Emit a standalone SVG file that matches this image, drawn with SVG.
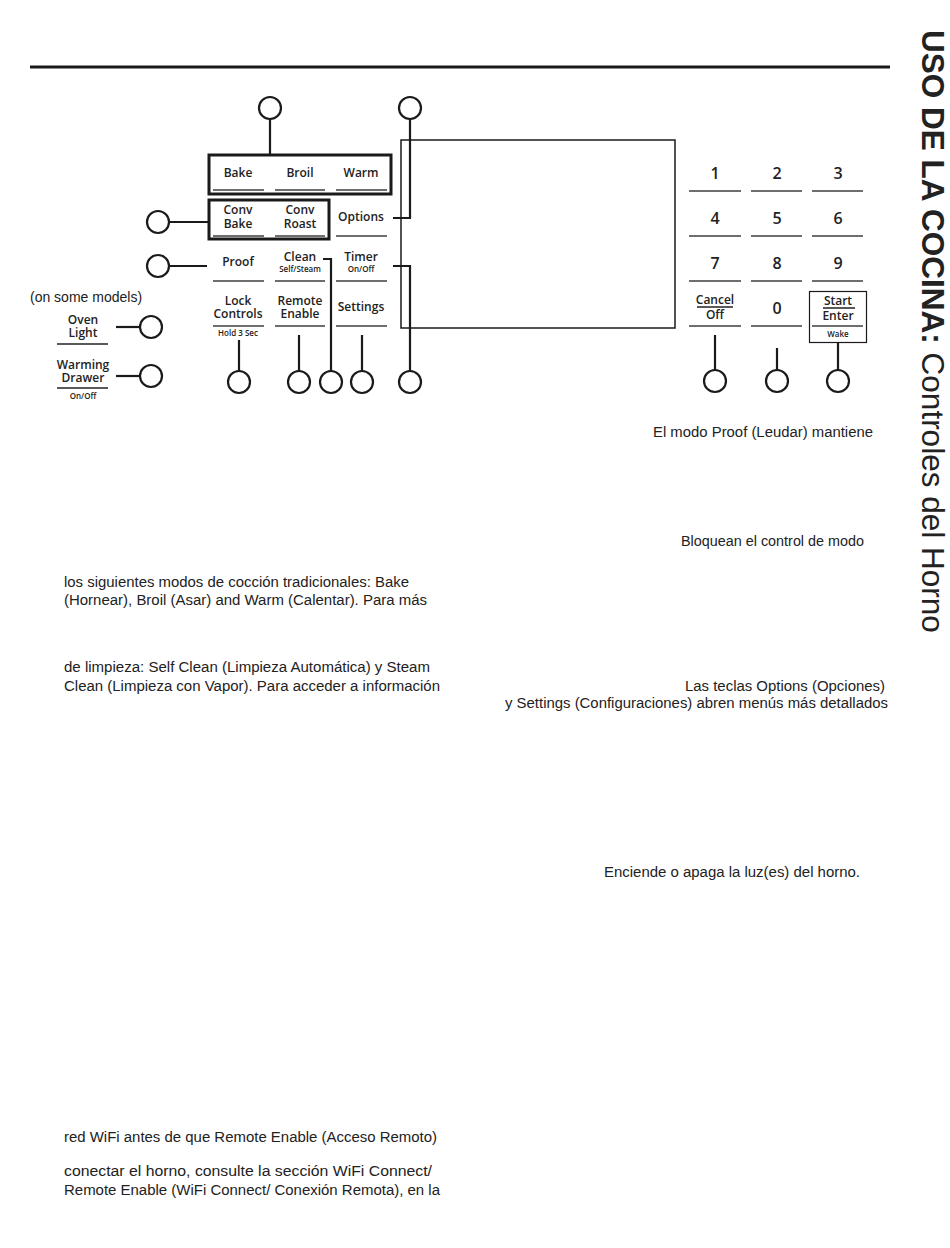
<svg xmlns="http://www.w3.org/2000/svg" width="950" height="1248" viewBox="0 0 950 1248">
<style>
.k{font-family:"Open Sans","DejaVu Sans",sans-serif;font-weight:600;font-size:12px;fill:#222;text-anchor:middle}
.s{font-family:"Open Sans","DejaVu Sans",sans-serif;font-weight:600;font-size:8px;fill:#222;text-anchor:middle}
.d{font-family:"Open Sans","DejaVu Sans",sans-serif;font-weight:600;font-size:16px;fill:#222;text-anchor:middle}
.b{font-family:"Liberation Sans",Arial,sans-serif;font-size:14px;fill:#222}
.ul{stroke:#6e6e6e;stroke-width:2}
.ud{stroke:#222;stroke-width:1.5}
.box{fill:none;stroke:#1a1a1a;stroke-width:3}
.c{fill:#fff;stroke:#1a1a1a;stroke-width:2.2}
.cn{fill:none;stroke:#1a1a1a;stroke-width:2.2}
</style>
<rect width="950" height="1248" fill="#fff"/>
<line x1="30" y1="67" x2="890" y2="67" stroke="#1a1a1a" stroke-width="3"/>
<text transform="translate(922,30) rotate(90)" font-family="Liberation Sans,Arial,sans-serif" font-size="31.5" fill="#222"><tspan font-weight="bold">USO DE LA COCINA:</tspan> Controles del Horno</text>

<g id="display"><rect x="401" y="140" width="274" height="188" fill="none" stroke="#1a1a1a" stroke-width="1.5"/></g>

<g id="group-bake"><rect class="box" x="209" y="155" width="182" height="39"/></g>
<g id="group-conv"><rect class="box" x="209" y="200" width="120" height="39"/></g>

<g id="key-bake"><text class="k" x="238" y="177">Bake</text><line class="ul" x1="213" y1="190" x2="264" y2="190"/></g>
<g id="key-broil"><text class="k" x="300" y="177">Broil</text><line class="ul" x1="275" y1="190" x2="325" y2="190"/></g>
<g id="key-warm"><text class="k" x="361" y="177">Warm</text><line class="ul" x1="336" y1="190" x2="387" y2="190"/></g>
<g id="key-convbake"><text class="k" x="238" y="214">Conv</text><text class="k" x="238" y="228">Bake</text><line class="ul" x1="213" y1="236" x2="264" y2="236"/></g>
<g id="key-convroast"><text class="k" x="300" y="214">Conv</text><text class="k" x="300" y="228">Roast</text><line class="ul" x1="275" y1="236" x2="325" y2="236"/></g>
<g id="key-options"><text class="k" x="361" y="221">Options</text><line class="ul" x1="336" y1="236" x2="387" y2="236"/></g>
<g id="key-proof"><text class="k" x="238" y="266">Proof</text><line class="ul" x1="213" y1="281" x2="264" y2="281"/></g>
<g id="key-clean"><text class="k" x="300" y="261">Clean</text><text class="s" x="300" y="272">Self/Steam</text><line class="ul" x1="275" y1="281" x2="325" y2="281"/></g>
<g id="key-timer"><text class="k" x="361" y="261">Timer</text><text class="s" x="361" y="272">On/Off</text><line class="ul" x1="336" y1="281" x2="387" y2="281"/></g>
<g id="key-lock"><text class="k" x="238" y="305">Lock</text><text class="k" x="238" y="318">Controls</text><line class="ul" x1="213" y1="326" x2="264" y2="326"/><text class="s" x="238" y="336" font-size="7">Hold 3 Sec</text></g>
<g id="key-remote"><text class="k" x="300" y="305">Remote</text><text class="k" x="300" y="318">Enable</text><line class="ul" x1="275" y1="326" x2="325" y2="326"/></g>
<g id="key-settings"><text class="k" x="361" y="311">Settings</text><line class="ul" x1="336" y1="326" x2="387" y2="326"/></g>

<g id="key-1"><text class="d" x="715" y="179">1</text><line class="ul" x1="689" y1="191" x2="741" y2="191"/></g>
<g id="key-2"><text class="d" x="777" y="179">2</text><line class="ul" x1="751" y1="191" x2="802" y2="191"/></g>
<g id="key-3"><text class="d" x="838" y="179">3</text><line class="ul" x1="812" y1="191" x2="863" y2="191"/></g>
<g id="key-4"><text class="d" x="715" y="224">4</text><line class="ul" x1="689" y1="236" x2="741" y2="236"/></g>
<g id="key-5"><text class="d" x="777" y="224">5</text><line class="ul" x1="751" y1="236" x2="802" y2="236"/></g>
<g id="key-6"><text class="d" x="838" y="224">6</text><line class="ul" x1="812" y1="236" x2="863" y2="236"/></g>
<g id="key-7"><text class="d" x="715" y="269">7</text><line class="ul" x1="689" y1="281" x2="741" y2="281"/></g>
<g id="key-8"><text class="d" x="777" y="269">8</text><line class="ul" x1="751" y1="281" x2="802" y2="281"/></g>
<g id="key-9"><text class="d" x="838" y="269">9</text><line class="ul" x1="812" y1="281" x2="863" y2="281"/></g>
<g id="key-cancel"><text class="k" x="715" y="304" font-size="10">Cancel</text><line class="ud" x1="697" y1="307" x2="733" y2="307"/><text class="k" x="715" y="319" font-size="10">Off</text><line class="ul" x1="689" y1="326" x2="741" y2="326"/></g>
<g id="key-0"><text class="d" x="777" y="314">0</text><line class="ul" x1="751" y1="326" x2="802" y2="326"/></g>
<g id="key-start"><rect x="809.5" y="291.5" width="57" height="51" fill="none" stroke="#1a1a1a" stroke-width="1.2"/><text class="k" x="838" y="305" font-size="11">Start</text><line class="ud" x1="823" y1="308" x2="855" y2="308"/><text class="k" x="838" y="320" font-size="11">Enter</text><line class="ul" x1="812" y1="326" x2="863" y2="326"/><text class="s" x="838" y="337" font-size="7">Wake</text></g>

<g id="key-ovenlight"><text class="k" x="83" y="324" font-size="11">Oven</text><text class="k" x="83" y="337" font-size="11">Light</text><line class="ud" x1="57" y1="344" x2="108" y2="344"/></g>
<g id="key-warmingdrawer"><text class="k" x="83" y="369" font-size="11">Warming</text><text class="k" x="83" y="382" font-size="11">Drawer</text><line class="ud" x1="57" y1="388" x2="108" y2="388"/><text class="s" x="83" y="399" font-size="7">On/Off</text></g>
<text class="b" x="30" y="302" font-size="12.3">(on some models)</text>

<g id="connectors">
<path class="cn" d="M270,119 V155"/>
<path class="cn" d="M410,119 V218 H393"/>
<path class="cn" d="M169,222 H209"/>
<path class="cn" d="M169,266 H207"/>
<path class="cn" d="M393,266 H410 V371"/>
<path class="cn" d="M323,259 H331 V371"/>
<path class="cn" d="M239,340 V371"/>
<path class="cn" d="M299,335 V371"/>
<path class="cn" d="M362,335 V371"/>
<path class="cn" d="M715,335 V370"/>
<path class="cn" d="M777,348 V370"/>
<path class="cn" d="M838,342 V370"/>
<path class="cn" d="M116,327 H140"/>
<path class="cn" d="M116,376 H140"/>
</g>

<g id="callout-1"><circle class="c" cx="270" cy="108" r="11"/></g>
<g id="callout-2"><circle class="c" cx="410" cy="108" r="11"/></g>
<g id="callout-3"><circle class="c" cx="158" cy="222" r="11"/></g>
<g id="callout-4"><circle class="c" cx="158" cy="266" r="11"/></g>
<g id="callout-5"><circle class="c" cx="151" cy="327" r="11"/></g>
<g id="callout-6"><circle class="c" cx="151" cy="376" r="11"/></g>
<g id="callout-7"><circle class="c" cx="239" cy="382" r="11"/></g>
<g id="callout-8"><circle class="c" cx="299" cy="382" r="11"/></g>
<g id="callout-9"><circle class="c" cx="331" cy="382" r="11"/></g>
<g id="callout-10"><circle class="c" cx="362" cy="382" r="11"/></g>
<g id="callout-11"><circle class="c" cx="410" cy="382" r="11"/></g>
<g id="callout-12"><circle class="c" cx="715" cy="381" r="11"/></g>
<g id="callout-13"><circle class="c" cx="777" cy="381" r="11"/></g>
<g id="callout-14"><circle class="c" cx="838" cy="381" r="11"/></g>

<g id="texts">
<text class="b" x="653" y="437" textLength="220" lengthAdjust="spacingAndGlyphs">El modo Proof (Leudar) mantiene</text>
<text class="b" x="681" y="546" textLength="183" lengthAdjust="spacingAndGlyphs">Bloquean el control de modo</text>
<text class="b" x="64" y="587" textLength="345" lengthAdjust="spacingAndGlyphs">los siguientes modos de cocción tradicionales: Bake</text>
<text class="b" x="64" y="605" textLength="363" lengthAdjust="spacingAndGlyphs">(Hornear), Broil (Asar) and Warm (Calentar). Para más</text>
<text class="b" x="64" y="672" textLength="366" lengthAdjust="spacingAndGlyphs">de limpieza: Self Clean (Limpieza Automática) y Steam</text>
<text class="b" x="64" y="691" textLength="376" lengthAdjust="spacingAndGlyphs">Clean (Limpieza con Vapor). Para acceder a información</text>
<text class="b" x="685" y="691" textLength="200" lengthAdjust="spacingAndGlyphs">Las teclas Options (Opciones)</text>
<text class="b" x="505" y="708" textLength="383" lengthAdjust="spacingAndGlyphs">y Settings (Configuraciones) abren menús más detallados</text>
<text class="b" x="604" y="877" textLength="256" lengthAdjust="spacingAndGlyphs">Enciende o apaga la luz(es) del horno.</text>
<text class="b" x="64" y="1142" textLength="373" lengthAdjust="spacingAndGlyphs">red WiFi antes de que Remote Enable (Acceso Remoto)</text>
<text class="b" x="64" y="1176" textLength="368" lengthAdjust="spacingAndGlyphs">conectar el horno, consulte la sección WiFi Connect/</text>
<text class="b" x="64" y="1195" textLength="376" lengthAdjust="spacingAndGlyphs">Remote Enable (WiFi Connect/ Conexión Remota), en la</text>
</g>
</svg>
